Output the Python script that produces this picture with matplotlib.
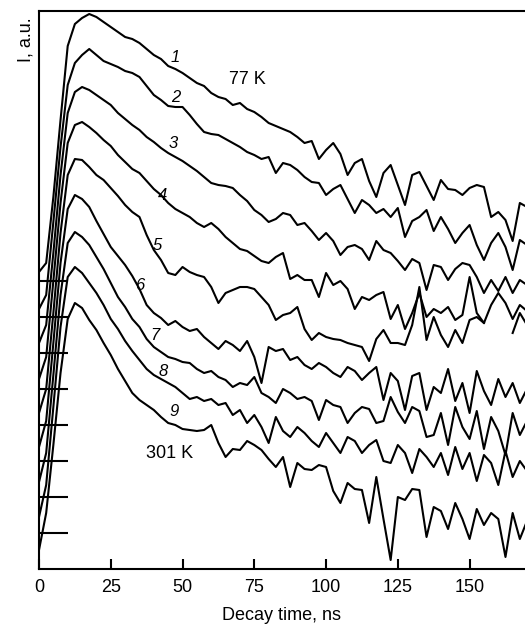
import numpy as np
import matplotlib
matplotlib.use("Agg")
import matplotlib.pyplot as plt

plt.rcParams['font.family'] = ['Liberation Sans', 'DejaVu Sans']

# decay time, ns
t_ns = [0, 2.5, 5, 7.5, 10, 12.5, 15, 17.5, 20, 22.5,
        25, 27.5, 30, 32.5, 35, 37.5, 40, 42.5, 45, 47.5,
        50, 52.5, 55, 57.5, 60, 62.5, 65, 67.5, 70, 72.5,
        75, 77.5, 80, 82.5, 85, 87.5, 90, 92.5, 95, 97.5,
        100, 102.5, 105, 107.5, 110, 112.5, 115, 117.5, 120, 122.5,
        125, 127.5, 130, 132.5, 135, 137.5, 140, 142.5, 145, 147.5,
        150, 152.5, 155, 157.5, 160, 162.5, 165, 167.5, 170]

nan = np.nan

# intensities, a.u. (curve 1 = 77 K ... curve 9 = 301 K)
i1 = [9, 18, 84, 161, 235, 257, 263, 267, 264,
      259, 254, 249, 244, 242, 238, 232, 226, 222, 215,
      212, 208, 203, 198, 195, 188, 184, 182, 176, 178,
      172, 169, 164, 158, 155, 152, 149, 144, 138, 140,
      122, 131, 138, 127, 106, 118, 122, 100, 84, 108,
      116, 96, 76, 106, 109, 95, 81, 101, 92, 91,
      86, 93, 96, 94, 64, 69, 61, 40, 78, 74]
i2 = [8, 22, 95, 170, 232, 254, 262, 268, 262,
      256, 253, 250, 246, 244, 240, 231, 222, 217, 211,
      210, 210, 202, 193, 185, 183, 182, 178, 174, 170,
      165, 162, 158, 160, 144, 154, 152, 147, 140, 135,
      134, 122, 128, 132, 118, 104, 117, 112, 104, 108,
      100, 109, 80, 96, 100, 107, 86, 100, 88, 74,
      84, 92, 72, 57, 74, 84, 70, 47, 77, 72]
i3 = [10, 28, 100, 178, 240, 261, 266, 263, 258,
      253, 248, 240, 234, 228, 223, 216, 211, 205, 200,
      196, 192, 187, 182, 176, 170, 168, 167, 165, 158,
      152, 143, 138, 131, 134, 140, 138, 128, 130, 122,
      113, 120, 112, 98, 106, 108, 104, 93, 112, 103,
      100, 92, 83, 94, 90, 63, 88, 86, 73, 84,
      90, 88, 76, 60, 73, 62, 76, 60, 73, 68]
i4 = [10, 32, 108, 186, 246, 264, 267, 262, 256,
      249, 243, 234, 227, 220, 216, 208, 200, 194, 186,
      180, 176, 172, 166, 162, 166, 160, 152, 146, 140,
      138, 133, 128, 126, 132, 136, 110, 114, 109, 109,
      92, 116, 104, 108, 100, 80, 92, 89, 94, 97,
      70, 84, 60, 76, 96, 72, 80, 76, 82, 69,
      74, 112, 76, 66, 84, 96, 86, 70, 84, 78]
i5 = [12, 36, 112, 192, 250, 266, 265, 258, 250,
      245, 237, 229, 220, 213, 208, 190, 175, 165, 152,
      150, 158, 153, 150, 148, 138, 122, 132, 135, 138,
      138, 136, 128, 120, 105, 110, 112, 118, 96, 85,
      92, 88, 86, 85, 82, 80, 78, 64, 86, 95,
      82, 82, 80, 100, 138, 85, 108, 90, 78, 95,
      82, 105, 108, 102, nan, nan, nan, 92, 112, 100]
i6 = [14, 40, 118, 198, 252, 266, 262, 254, 240,
      227, 214, 205, 196, 185, 172, 156, 148, 143, 136,
      140, 134, 130, 132, 124, 118, 112, 120, 116, 110,
      120, 104, 78, 114, 110, 112, 101, 104, 96, 92,
      98, 94, 88, 84, 94, 90, 81, 88, 94, 61,
      88, 80, 51, 85, 88, 51, 74, 68, 92, 60,
      78, 48, 90, 70, 56, 82, 64, 78, 58, 72]
i7 = [15, 44, 122, 202, 254, 265, 260, 252, 240,
      228, 214, 200, 190, 178, 170, 158, 150, 145, 140,
      138, 135, 134, 128, 124, 126, 120, 117, 110, 114,
      112, 120, 104, 100, 94, 108, 104, 98, 100, 96,
      77, 97, 92, 90, 74, 84, 90, 88, 74, 76,
      100, 85, 74, 90, 86, 60, 62, 84, 52, 90,
      70, 58, 86, 48, 80, 66, 42, 84, 62, 76]
i8 = [16, 48, 126, 206, 256, 266, 260, 250, 240,
      228, 214, 204, 192, 182, 173, 164, 158, 154, 150,
      146, 140, 134, 136, 132, 134, 128, 130, 118, 123,
      110, 118, 106, 90, 116, 102, 96, 106, 100, 92,
      86, 100, 90, 80, 96, 92, 80, 88, 93, 72,
      70, 88, 80, 60, 84, 76, 66, 80, 58, 86,
      64, 80, 52, 78, 70, 48, 82, 56, 72, 62]
i9 = [19, 56, 124, 196, 250, 266, 261, 249, 239,
      226, 214, 200, 188, 176, 169, 164, 159, 152, 146,
      144, 140, 139, 138, 139, 144, 126, 112, 120, 119,
      128, 124, 119, 110, 102, 112, 82, 106, 100, 99,
      104, 102, 78, 66, 86, 80, 79, 46, 92, 50,
      9, 72, 69, 80, 79, 32, 62, 58, 40, 66,
      50, 30, 60, 44, 56, 50, 12, 56, 30, 48]

curves = [i1, i2, i3, i4, i5, i6, i7, i8, i9]
curve_labels = ['1', '2', '3', '4', '5', '6', '7', '8', '9']

step = 36  # vertical shift between curves
lw = 1.5

fig = plt.figure(figsize=(5.25, 6.28), dpi=100)
ax = fig.add_axes([39 / 525, 59 / 628, 1 - 39 / 525, 558 / 628])

for n, c in enumerate(curves):
    shift = step * (len(curves) - 1 - n)
    ax.plot(t_ns, np.array(c, dtype=float) + shift, color='black', lw=lw)

# zero levels of the shifted curves
ax.hlines([step * k for k in range(1, len(curves))], 0, 10, color='black', lw=lw)

# curve numbers
lab_pos = [(47.4, 511), (47.7, 472), (46.7, 426), (43.2, 374), (41.1, 323),
           (35.2, 284), (40.4, 233), (43.2, 197), (47.0, 157)]
for s, (x, y) in zip(curve_labels, lab_pos):
    ax.text(x, y, s, fontsize=12, style='italic', ha='center', va='center')

ax.text(72.5, 489, '77 K', fontsize=13, ha='center', va='center')
ax.text(45.6, 116, '301 K', fontsize=13, ha='center', va='center')

ax.set_xlim(0, 169.3)
ax.set_ylim(0, 558)
ax.set_xticks([0, 25, 50, 75, 100, 125, 150])
ax.set_yticks([])
ax.tick_params(axis='x', direction='in', length=7, width=1.5, labelsize=13, pad=7)
ax.spines['right'].set_visible(False)
for s in ['left', 'top', 'bottom']:
    ax.spines[s].set_linewidth(1.5)

ax.set_xlabel('Decay time, ns', fontsize=13, labelpad=8)
fig.text(26 / 525, 1 - 40 / 628, 'I, a.u.', rotation=90, fontsize=13,
         ha='center', va='center')

fig.savefig('out.png', dpi=100)
